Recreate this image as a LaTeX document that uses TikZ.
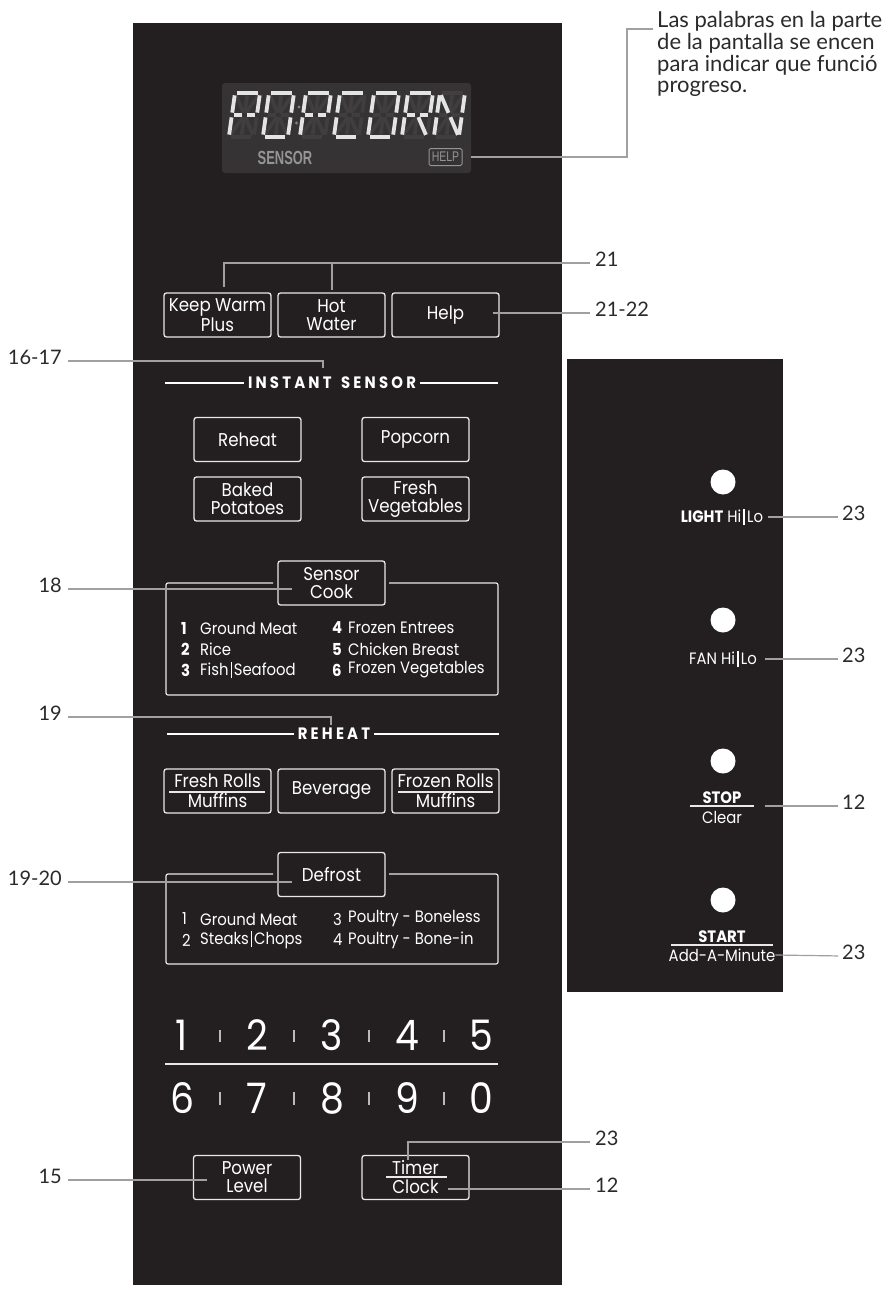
\documentclass[tikz,border=0pt]{standalone}
\usepackage{fontspec}
\setmainfont{Lato}
\newfontfamily\notef{Lato}
\newfontfamily\arialf{Liberation Sans}
\newfontfamily\agf[FakeStretch=0.9]{Poppins}
\usepackage{graphicx}
\newcommand\ag{\agf\mdseries}
\newcommand\agb{\agf\bfseries}
\newcommand\fsz[2]{\fontsize{#1}{#2}\selectfont}
\newcommand\lsp{\kern3.2pt}
\newcommand\vbar[1]{\hspace{2pt}\rule[-3pt]{#1}{16pt}\hspace{2pt}}
\definecolor{panel}{HTML}{231F20}
\definecolor{dispbg}{HTML}{353334}
\definecolor{litc}{HTML}{E4E4E4}
\definecolor{ghostc}{HTML}{403E3F}
\definecolor{dispg}{HTML}{959595}
\definecolor{callg}{HTML}{A0A0A0}
\definecolor{keyline}{HTML}{E8E8E8}
\definecolor{labelc}{HTML}{2A2A2A}
\tikzset{
  btn/.style={draw=keyline, line width=1.3pt, rounded corners=2.5pt, minimum width=107pt, minimum height=44pt, inner sep=0pt, text=white, align=center, font=\ag\fsz{18.5}{18}},
  call/.style={draw=callg, line width=1.2pt},
  lbl/.style={text=labelc, inner sep=0pt, text height=14pt, text depth=7pt, font=\fsz{20}{22}},
  lstn/.style={text=white, inner sep=0pt, anchor=west, font=\agb\fsz{16.5}{18}},
  lstr/.style={text=white, inner sep=0pt, anchor=west, font=\ag\fsz{16.5}{18}},
  frame/.style={draw=keyline, line width=1.2pt, rounded corners=2pt},
  rulel/.style={draw=white, line width=1.1pt},
  fracline/.style={draw=keyline, line width=1.2pt},
  digit/.style={text=white, inner sep=0pt, font=\ag\fsz{42}{42}},
  dsep/.style={draw=keyline!80!black, line width=1.2pt},
  seglit/.style={draw=litc, line width=3.8pt, shorten >=2.4pt, shorten <=2.4pt},
  segghost/.style={draw=ghostc, line width=3.6pt, shorten >=2.4pt, shorten <=2.4pt},
  rtxt/.style={text=white, inner sep=0pt, font=\ag\fsz{16.5}{18}},
  rtxtb/.style={text=white, inner sep=0pt, font=\agb\fsz{16.5}{18}},
  led/.style={fill=white, draw=none},
  note/.style={text=labelc, inner sep=0pt, anchor=base west, font=\notef\fsz{22}{22}},
  head/.style={text=white, inner sep=4pt, font=\agb\fsz{16.5}{18}}
}
\newcommand\segchar[2]{%
  \begin{scope}[shift={(#1,93)}, xslant=0.14, x=25pt, y=-44pt]
    \foreach \ua/\va/\ub/\vb in {0/0/1/0, 0/0/0/.5, 1/0/1/.5, 0/.5/0/1, 1/.5/1/1, 0/1/1/1, 0/.5/.5/.5, .5/.5/1/.5, .5/0/.5/.5, .5/.5/.5/1, 0/0/.5/.5, 1/0/.5/.5, 0/1/.5/.5, 1/1/.5/.5}
      {\draw[segghost] (\ua,\va) -- (\ub,\vb);}
    \foreach \ua/\va/\ub/\vb in {#2}
      {\draw[seglit] (\ua,\va) -- (\ub,\vb);}
  \end{scope}}
\begin{document}
\begin{tikzpicture}[x=1pt,y=-1pt]
\useasboundingbox (0,0) rectangle (883,1290);
% panels
\fill[panel] (133,23) rectangle (562,1285);
\fill[panel] (567,359) rectangle (783,992);
% display
\fill[dispbg, rounded corners=3pt] (222,83) rectangle (471,173);
\segchar{235}{0/0/1/0, 0/0/0/.5, 1/0/1/.5, 0/.5/0/1, 0/.5/.5/.5, .5/.5/1/.5}
\segchar{269}{0/0/1/0, 0/0/0/.5, 1/0/1/.5, 0/.5/0/1, 1/.5/1/1, 0/1/1/1}
\segchar{306}{0/0/1/0, 0/0/0/.5, 1/0/1/.5, 0/.5/0/1, 0/.5/.5/.5, .5/.5/1/.5}
\segchar{340}{0/0/1/0, 0/0/0/.5, 0/.5/0/1, 0/1/1/1}
\segchar{374}{0/0/1/0, 0/0/0/.5, 1/0/1/.5, 0/.5/0/1, 1/.5/1/1, 0/1/1/1}
\segchar{408}{0/0/1/0, 0/0/0/.5, 1/0/1/.5, 0/.5/0/1, 0/.5/.5/.5, .5/.5/1/.5, .5/.5/1/1}
\segchar{440}{0/0/0/.5, 0/.5/0/1, 1/0/1/.5, 1/.5/1/1, 0/0/.5/.5, .5/.5/1/1}
\fill[ghostc!60!litc] (299,107) circle (1.7pt);
\fill[ghostc!60!litc] (296.5,123) circle (1.7pt);
\node[text=dispg, inner sep=0pt, font=\arialf\bfseries\fsz{19}{20}] (sensorlbl) at (285,158) {\scalebox{0.68}[1]{SENSOR}};
\node[draw=dispg, line width=1pt, rounded corners=1.5pt, minimum width=33pt, minimum height=17pt, inner sep=0pt, text=dispg, font=\arialf\fsz{14}{14}] (helpind) at (445.5,157) {\scalebox{0.75}[1]{HELP}};
% note text
\node[note] (note1) at (657,28) {Las palabras en la parte};
\node[note] (note2) at (657,49.5) {de la pantalla se encen};
\node[note] (note3) at (657,71) {para indicar que funció};
\node[note] (note4) at (657,92.5) {progreso.};
\coordinate (noteend) at (653,29);
\draw[call, shorten <=8pt] (helpind.east) -| (627,29) -- (noteend);
% top buttons
\node[btn] (kw) at (217.5,315) {Keep Warm\\Plus};
\node[btn] (hw) at (331.5,315) {Hot\\Water};
\node[btn] (help) at (445.5,315) {Help};
\node[lbl, anchor=west] (l21) at (595,263) {21};
\node[lbl, anchor=west] (l2122) at (595,313) {21-22};
\coordinate (c21a) at (224,287);
\coordinate (c21b) at (332,290);
\draw[call, shorten >=5pt] (c21a) |- (l21.west);
\draw[call] (c21b) -- (c21b |- l21.west);
\coordinate (c2122) at (493,313);
\draw[call, shorten >=5pt] (c2122) -- (l2122.west);
% instant sensor
\node[lbl, anchor=east] (l1617) at (62,361) {16-17};
\coordinate (c1617) at (323,368);
\draw[call, shorten <=6pt] (l1617.east) -| (c1617);
\node[head] (isens) at (332,383) {I\lsp N\lsp S\lsp T\lsp A\lsp N\lsp T\lsp\lsp\ S\lsp E\lsp N\lsp S\lsp O\lsp R};
\draw[rulel] (165,383) -- (isens.west);
\draw[rulel] (isens.east) -- (498,383);
\node[btn] (reheat) at (247.5,439.5) {Reheat};
\node[btn] (popcorn) at (415.5,439.5) {Popcorn};
\node[btn] (baked) at (247.5,499) {Baked\\Potatoes};
\node[btn] (freshveg) at (415.5,499) {Fresh\\Vegetables};
% sensor cook
\node[btn] (scook) at (331.5,583) {Sensor\\Cook};
\draw[frame] (273,583) -- (166,583) -- (166,695) -- (498,695) -- (498,583) -- (389,583);
\node[lbl, anchor=east] (l18) at (62,589) {18};
\coordinate (c18) at (292,589);
\draw[call, shorten <=6pt] (l18.east) -- (c18);
\node[lstn] (sn1) at (181,628) {1};
\node[lstr] (st1) at (200,628) {Ground Meat};
\node[lstn] (sn2) at (181,649) {2};
\node[lstr] (st2) at (200,649) {Rice};
\node[lstn] (sn3) at (181,670) {3};
\node[lstr] (st3) at (200,670) {Fish\vbar{1.2pt}Seafood};
\node[lstn] (sn4) at (332,628) {4};
\node[lstr] (st4) at (348,628) {Frozen Entrees};
\node[lstn] (sn5) at (332,649) {5};
\node[lstr] (st5) at (348,649) {Chicken Breast};
\node[lstn] (sn6) at (332,670) {6};
\node[lstr] (st6) at (348,670) {Frozen Vegetables};
% reheat
\node[lbl, anchor=east] (l19) at (62,717) {19};
\coordinate (c19) at (331,725);
\draw[call, shorten <=6pt] (l19.east) -| (c19);
\node[head] (rht) at (334,734) {R\lsp E\lsp H\lsp E\lsp A\lsp T};
\draw[rulel] (167,734) -- (rht.west);
\draw[rulel] (rht.east) -- (499,734);
\node[btn, font=\ag\fsz{18.5}{20}] (frolls) at (217.5,791) {Fresh Rolls\\Muffins};
\node[btn] (bev) at (331.5,791) {Beverage};
\node[btn, font=\ag\fsz{18.5}{20}] (zrolls) at (445.5,791) {Frozen Rolls\\Muffins};
\draw[fracline] (169,792) -- (265,792);
\draw[fracline] (398,792) -- (493,792);
% defrost
\node[btn] (defrost) at (331.5,874.5) {Defrost};
\draw[frame] (273,874) -- (166,874) -- (166,964) -- (498,964) -- (498,874) -- (389,874);
\node[lbl, anchor=east] (l1920) at (62,882) {19-20};
\coordinate (cdef) at (292,882);
\draw[call, shorten <=6pt] (l1920.east) -- (cdef);
\node[lstr] (dn1) at (182,919) {1};
\node[lstr] (dt1) at (200,919) {Ground Meat};
\node[lstr] (dn2) at (182,940) {2};
\node[lstr] (dt2) at (200,940) {Steaks\vbar{1.2pt}Chops};
\node[lstr] (dn3) at (333,919) {3};
\node[lstr] (dt3) at (348,919) {Poultry - Boneless};
\node[lstr] (dn4) at (333,940) {4};
\node[lstr] (dt4) at (348,940) {Poultry - Bone-in};
% digits
\node[digit] (d1) at (182,1035) {1};
\node[digit] (d2) at (257,1035) {2};
\node[digit] (d3) at (332,1035) {3};
\node[digit] (d4) at (407,1035) {4};
\node[digit] (d5) at (481,1035) {5};
\node[digit] (d6) at (182,1098) {6};
\node[digit] (d7) at (257,1098) {7};
\node[digit] (d8) at (332,1098) {8};
\node[digit] (d9) at (407,1098) {9};
\node[digit] (d0) at (481,1098) {0};
\foreach \sx in {220,294,369,444} {
  \draw[dsep] (\sx,1030) -- (\sx,1042);
  \draw[dsep] (\sx,1092) -- (\sx,1105);
}
\draw[fracline] (165,1064) -- (498,1064);
% power / timer
\node[btn] (power) at (247,1177.5) {Power\\Level};
\node[btn, font=\ag\fsz{18.5}{19}] (timer) at (415.5,1177.5) {Timer\\Clock};
\draw[fracline] (386,1177) -- (447,1177);
\node[lbl, anchor=east] (l15) at (62,1180) {15};
\coordinate (cpower) at (207,1180);
\draw[call, shorten <=6pt] (l15.east) -- (cpower);
\node[lbl, anchor=west] (l23d) at (595,1142) {23};
\node[lbl, anchor=west] (l12b) at (595,1189) {12};
\coordinate (ctimer) at (408,1160);
\coordinate (cclock) at (448,1189);
\draw[call, shorten >=5pt] (ctimer) |- (l23d.west);
\draw[call, shorten >=5pt] (cclock) -- (l12b.west);
% right panel
\fill[led] (723,482) circle (12.5pt);
\fill[led] (723,620) circle (12.5pt);
\fill[led] (723,761) circle (12.5pt);
\fill[led] (723,900) circle (12.5pt);
\node[rtxt] (tlight) at (722,517) {{\agb LIGHT} Hi\vbar{2pt}Lo};
\node[rtxt] (tfan) at (723,659) {FAN Hi\vbar{2pt}Lo};
\node[rtxtb] (tstop) at (722,798) {STOP};
\draw[fracline] (690,806) -- (754,806);
\node[rtxt] (tclear) at (722,817) {Clear};
\node[rtxtb] (tstart) at (722,937) {START};
\draw[fracline] (671,945) -- (773,945);
\node[rtxt] (tadd) at (722,955) {Add-A-Minute};
\node[lbl, anchor=west] (l23a) at (842,517) {23};
\node[lbl, anchor=west] (l23b) at (842,659) {23};
\node[lbl, anchor=west] (l12a) at (842,806) {12};
\node[lbl, anchor=west] (l23c) at (842,956) {23};
\draw[call, shorten <=5pt, shorten >=4pt] (tlight.east) -- (l23a.west);
\draw[call, shorten <=8pt, shorten >=4pt] (tfan.east) -- (l23b.west);
\coordinate (cstop) at (765,806);
\draw[call, shorten >=4pt] (cstop) -- (l12a.west);
\draw[call, shorten >=4pt] (tadd.east) -- (l23c.west);
\end{tikzpicture}
\end{document}
